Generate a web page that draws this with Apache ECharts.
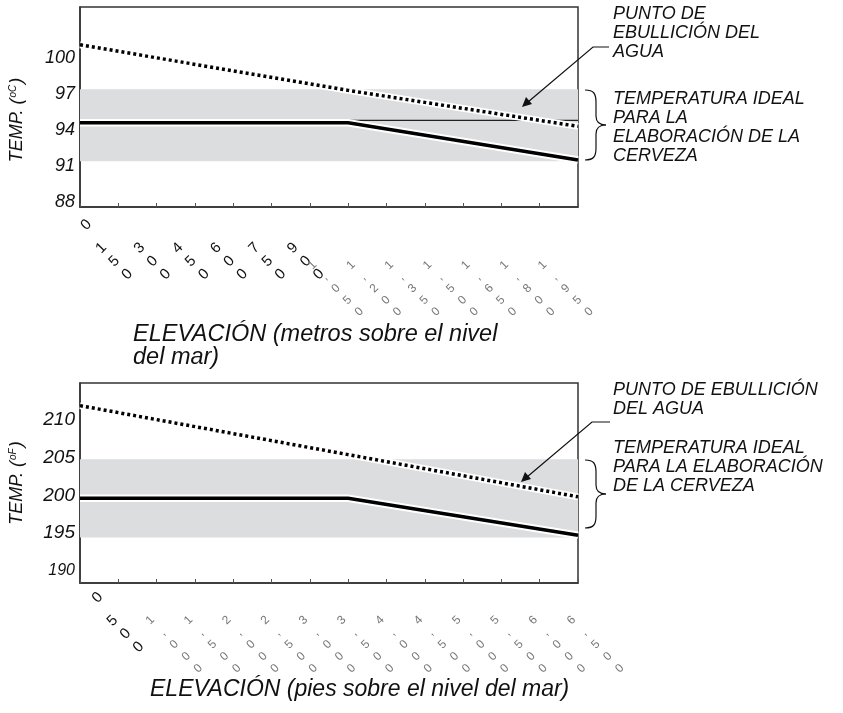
<!DOCTYPE html>
<html>
<head>
<meta charset="utf-8">
<script src="https://cdn.jsdelivr.net/npm/echarts@6/dist/echarts.min.js"></script>
<style>
html,body{margin:0;padding:0;background:#fff;}
#chart{width:843px;height:713px;}
</style>
</head>
<body>
<div id="chart"></div>
<script>
// ---- data ----
const ticksM = [0,150,300,450,600,750,900,1050,1200,1350,1500,1650,1800,1950];
const ticksFt = [0,500,1000,1500,2000,2500,3000,3500,4000,4500,5000,5500,6000,6500];
const ticksC = [88,91,94,97,100];
const ticksF = [190,195,200,205,210];

const elevM = [0,1050,1950];
const boilC = [101.1,97.3,94.3];
const brewC = [94.6,94.6,91.5];
const flatM = [1050,1950];
const flatC = [94.8,94.8];
const bandC = [91.4,97.4];

const elevFt = [0,3500,6500];
const boilF = [211.9,205.4,199.8];
const brewF = [199.6,199.6,194.7];
const bandF = [194.4,204.8];

const FONT = "'Liberation Sans', Arial, sans-serif";

function pairs(xs, ys){ return xs.map((x,i)=>[String(x), ys[i]]); }
function fmtNum(v){
  if (v >= 1000) return Math.floor(v/1000) + ',' + String(v%1000).padStart(3,'0');
  return String(v);
}
function stackLabel(val){
  const v = Number(val);
  const s = fmtNum(v);
  const st = v === 0 ? 'z' : (v >= 1000 ? 'b' : 'a');
  return s.split('').map(c => '{' + st + '|' + c + '}').join('\n');
}
function xRich(bigPadR, bigLh){
  return {
    a:{fontSize:15, lineHeight:18.5, color:'#111', fontFamily:FONT},
    z:{fontSize:15, lineHeight:18.5, color:'#111', fontFamily:FONT, padding:[0,0,0,66]},
    b:{fontSize:12, lineHeight:bigLh, color:'#777', fontFamily:FONT, padding:[0,bigPadR,0,0]}
  };
}

function xAxisDef(gi, ticks, margin, padR, rich){
  return {
    type:'category', gridIndex:gi, data: ticks.map(String), boundaryGap:false,
    axisLine:{show:true, lineStyle:{color:'#333', width:1.5}},
    axisTick:{show:true, inside:true, length:4, interval:0, lineStyle:{color:'#555', width:1}},
    splitLine:{show:false},
    axisLabel:{
      show:true, rotate:45, interval:0, margin:margin,
      align:'center', verticalAlign:'top', padding:[0,padR,0,0],
      formatter: stackLabel, rich: rich, hideOverlap:false
    }
  };
}
function yAxisDef(gi, min, max, ticks, fs, smallVal){
  return {
    type:'value', gridIndex:gi, min:min, max:max,
    axisLine:{show:true, lineStyle:{color:'#333', width:1.5}},
    axisTick:{show:false},
    splitLine:{show:false},
    axisLabel:{
      show:true, margin:5, customValues: ticks,
      formatter: v => (v === smallVal ? '{s|' + v + '}' : '{n|' + v + '}'),
      rich:{
        n:{fontSize:fs, fontStyle:'italic', color:'#111', fontFamily:FONT},
        s:{fontSize:16, fontStyle:'italic', color:'#111', fontFamily:FONT}
      }
    }
  };
}

function lineSeries(xi, yi, data, color, width, type, z){
  return {
    type:'line', xAxisIndex:xi, yAxisIndex:yi, data:data, symbol:'none',
    silent:true, animation:false, z:z,
    lineStyle:{color:color, width:width, type:type, cap:'butt', join:'miter'}
  };
}

function brace(x0, y0, y1){
  const xm = x0 + 11, xt = x0 + 21, ym = (y0 + y1) / 2;
  const st = {stroke:'#111', lineWidth:1.2, fill:null};
  return [
    {type:'bezierCurve', z:10, shape:{x1:x0,y1:y0,cpx1:x0+9,cpy1:y0,cpx2:xm,cpy2:y0+4,x2:xm,y2:y0+12}, style:st},
    {type:'line', z:10, shape:{x1:xm,y1:y0+12,x2:xm,y2:ym-9}, style:st},
    {type:'bezierCurve', z:10, shape:{x1:xm,y1:ym-9,cpx1:xm,cpy1:ym-3,cpx2:xm+3,cpy2:ym,x2:xt,y2:ym}, style:st},
    {type:'bezierCurve', z:10, shape:{x1:xt,y1:ym,cpx1:xm+3,cpy1:ym,cpx2:xm,cpy2:ym+3,x2:xm,y2:ym+9}, style:st},
    {type:'line', z:10, shape:{x1:xm,y1:ym+9,x2:xm,y2:y1-12}, style:st},
    {type:'bezierCurve', z:10, shape:{x1:xm,y1:y1-12,cpx1:xm,cpy1:y1-4,cpx2:x0+9,cpy2:y1,x2:x0,y2:y1}, style:st}
  ];
}

const chart = echarts.init(document.getElementById('chart'), null, {renderer:'canvas'});

const option = {
  animation:false,
  grid:[
    {left:80, top:7, width:498, height:200, show:true, borderColor:'#333', borderWidth:1.5, backgroundColor:'transparent'},
    {left:80, top:383, width:498, height:200, show:true, borderColor:'#333', borderWidth:1.5, backgroundColor:'transparent'}
  ],
  xAxis:[ xAxisDef(0, ticksM, 11, 67, xRich(50, 16.5)), xAxisDef(1, ticksFt, 19, 35, xRich(0, 17)) ],
  yAxis:[ yAxisDef(0, 87.58, 104.25, ticksC, 18, null), yAxisDef(1, 188.37, 214.9, ticksF, 19, 190) ],
  series:[
    // top chart
    Object.assign(lineSeries(0,0,[], '#000', 0, 'solid', 1), {
      markArea:{silent:true, itemStyle:{color:'#dcdddf'}, data:[[{yAxis:bandC[0]},{yAxis:bandC[1]}]]}
    }),
    lineSeries(0,0,pairs(flatM, flatC), '#222', 1.2, 'solid', 2),
    lineSeries(0,0,pairs(elevM, boilC), '#fff', 7, 'solid', 3),
    lineSeries(0,0,pairs(elevM, boilC), '#000', 3.5, [3,3], 4),
    lineSeries(0,0,pairs(elevM, brewC), '#fff', 7.5, 'solid', 3),
    lineSeries(0,0,pairs(elevM, brewC), '#000', 3.5, 'solid', 4),
    // bottom chart
    Object.assign(lineSeries(1,1,[], '#000', 0, 'solid', 1), {
      markArea:{silent:true, itemStyle:{color:'#dcdddf'}, data:[[{yAxis:bandF[0]},{yAxis:bandF[1]}]]}
    }),
    lineSeries(1,1,pairs(elevFt, boilF), '#fff', 7, 'solid', 3),
    lineSeries(1,1,pairs(elevFt, boilF), '#000', 3.5, [3,3], 4),
    lineSeries(1,1,pairs(elevFt, brewF), '#fff', 7.5, 'solid', 3),
    lineSeries(1,1,pairs(elevFt, brewF), '#000', 3.5, 'solid', 4)
  ],
  graphic:[
    // y-axis names
    {type:'text', x:17, y:120, rotation:Math.PI/2, style:{
      text:'{a|TEMP. (}{s|oC}{a|)}', align:'center', verticalAlign:'middle',
      rich:{a:{fontSize:18, fontStyle:'italic', fill:'#111', fontFamily:FONT},
            s:{fontSize:10, fontStyle:'italic', fill:'#111', fontFamily:FONT, padding:[0,1,8,1]}}}},
    {type:'text', x:17, y:483, rotation:Math.PI/2, style:{
      text:'{a|TEMP. (}{s|oF}{a|)}', align:'center', verticalAlign:'middle',
      rich:{a:{fontSize:18, fontStyle:'italic', fill:'#111', fontFamily:FONT},
            s:{fontSize:10, fontStyle:'italic', fill:'#111', fontFamily:FONT, padding:[0,1,8,1]}}}},
    // x-axis names
    {type:'text', x:133, y:323, style:{text:'ELEVACIÓN (metros sobre el nivel\ndel mar)', fontSize:23.5, lineHeight:23,
      fontStyle:'italic', fill:'#111', fontFamily:FONT}},
    {type:'text', x:150, y:690, style:{text:'ELEVACIÓN (pies sobre el nivel del mar)', fontSize:23,
      verticalAlign:'middle', fontStyle:'italic', fill:'#111', fontFamily:FONT}},
    // annotations top
    {type:'text', x:613, y:4.5, style:{text:'PUNTO DE\nEBULLICIÓN DEL\nAGUA', fontSize:18, lineHeight:19,
      fontStyle:'italic', fill:'#111', fontFamily:FONT}},
    {type:'text', x:613, y:89.5, style:{text:'TEMPERATURA IDEAL\nPARA LA\nELABORACIÓN DE LA\nCERVEZA', fontSize:18, lineHeight:19,
      fontStyle:'italic', fill:'#111', fontFamily:FONT}},
    // annotations bottom
    {type:'text', x:613, y:380.5, style:{text:'PUNTO DE EBULLICIÓN\nDEL AGUA', fontSize:18, lineHeight:19,
      fontStyle:'italic', fill:'#111', fontFamily:FONT}},
    {type:'text', x:613, y:438.5, style:{text:'TEMPERATURA IDEAL\nPARA LA ELABORACIÓN\nDE LA CERVEZA', fontSize:18, lineHeight:19,
      fontStyle:'italic', fill:'#111', fontFamily:FONT}},
    // arrows
    {type:'polyline', z:10, shape:{points:[[609,47],[593,47],[528,102]]}, style:{stroke:'#111', lineWidth:1.2, fill:null}},
    {type:'polygon', z:10, shape:{points:[[522,107],[526,97],[532,104]]}, style:{fill:'#111'}},
    {type:'polyline', z:10, shape:{points:[[610,422],[592,422],[527,477]]}, style:{stroke:'#111', lineWidth:1.2, fill:null}},
    {type:'polygon', z:10, shape:{points:[[521,482],[525,472],[531,479]]}, style:{fill:'#111'}}
  ].concat(brace(585, 90, 160), brace(585, 460, 528))
};
chart.setOption(option);
</script>
</body>
</html>
